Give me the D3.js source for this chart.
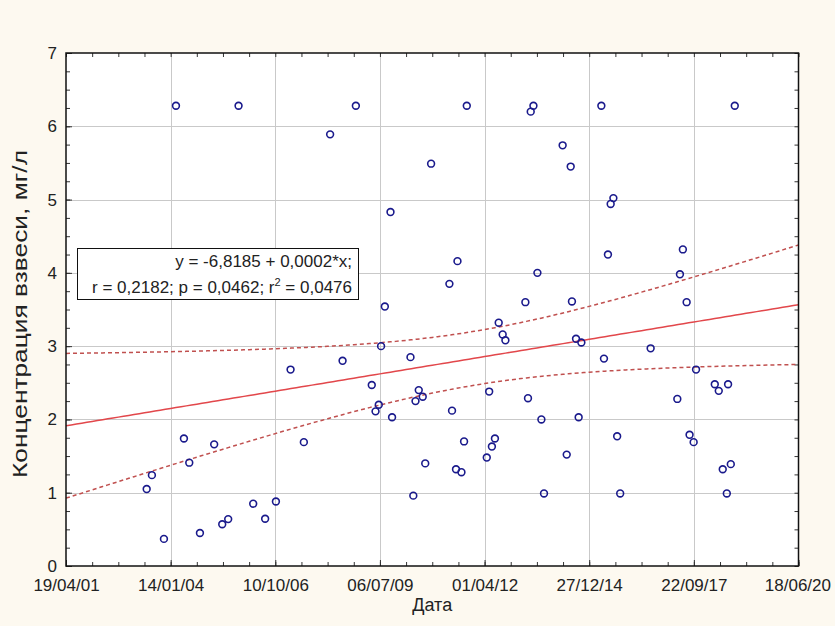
<!DOCTYPE html>
<html>
<head>
<meta charset="utf-8">
<script src="https://cdn.jsdelivr.net/npm/d3@7"></script>
<style>
  html, body { margin: 0; padding: 0; background: #fdf9f0; }
  svg { display: block; font-family: "Liberation Sans", Arial, sans-serif; }
</style>
</head>
<body>
<svg id="chart" width="835" height="626"></svg>
<script>
// Sampling dates as spreadsheet day serials (day 0 = 30/12/1899)
const sampleDay = [
  37771, 37821, 37936, 38051, 38127, 38178, 38280, 38416, 38493, 38550,
  38649, 38789, 38903, 39006, 39146, 39273, 39524, 39643, 39770, 39922,
  39958, 39989, 40011, 40047, 40101, 40116, 40292, 40319, 40340, 40371,
  40409, 40433, 40489, 40664, 40689, 40727, 40741, 40779, 40804, 40830,
  41021, 41044, 41070, 41099, 41135, 41173, 41199, 41390, 41415, 41441,
  41467, 41505, 41543, 41568, 41746, 41785, 41823, 41835, 41874, 41899,
  41925, 42116, 42141, 42179, 42205, 42231, 42267, 42296, 42587, 42842,
  42867, 42895, 42931, 42959, 42998, 43021, 43200, 43238, 43276, 43315,
  43327, 43353, 43391
];

// Suspended matter concentration, mg/l
const concentration = [
  1.05, 1.24, 0.37, 6.28, 1.74, 1.41, 0.45, 1.66, 0.57, 0.64,
  6.28, 0.85, 0.645, 0.88, 2.68, 1.69, 5.89, 2.80, 6.28, 2.47,
  2.11, 2.20, 3.00, 3.54, 4.83, 2.03, 2.85, 0.96, 2.25, 2.40,
  2.31, 1.40, 5.49, 3.85, 2.12, 1.32, 4.16, 1.28, 1.70, 6.28,
  1.48, 2.38, 1.63, 1.74, 3.32, 3.16, 3.08, 3.60, 2.29, 6.20,
  6.28, 4.00, 2.00, 0.99, 5.74, 1.52, 5.45, 3.61, 3.10, 2.03,
  3.05, 6.28, 2.83, 4.25, 4.94, 5.02, 1.77, 0.99, 2.97, 2.28,
  3.98, 4.32, 3.60, 1.79, 1.69, 2.68, 2.48, 2.39, 1.32, 0.99,
  2.48, 1.39, 6.28
];

// Axis ticks
const xTickDays = [37000, 38000, 39000, 40000, 41000, 42000, 43000, 44000];
const xTickLabels = ["19/04/01", "14/01/04", "10/10/06", "06/07/09", "01/04/12", "27/12/14", "22/09/17", "18/06/20"];
const yTicks = [0, 1, 2, 3, 4, 5, 6, 7];

// Linear fit y = a + b*x and its statistics
const fitIntercept = -6.8185;
const fitSlope = 0.000236;
const fitR = 0.2182;
const fitP = 0.0462;
const tCrit = 1.99; // two-sided 95 %, df = n - 2

const svg = d3.select("#chart");
const W = 835, H = 626;
const pLeft = 66, pRight = 798.5, pTop = 53, pBottom = 566;

svg.append("rect").attr("width", W).attr("height", H).attr("fill", "#fdf9f0");

const x = d3.scaleLinear().domain([37000, 44000]).range([pLeft, pRight]);
const y = d3.scaleLinear().domain([0, 7]).range([pBottom, pTop]);

svg.append("rect")
  .attr("x", pLeft).attr("y", pTop)
  .attr("width", pRight - pLeft).attr("height", pBottom - pTop)
  .attr("fill", "#ffffff");

// grid
const grid = svg.append("g").attr("stroke", "#c9c9c9").attr("stroke-width", 1);
xTickDays.slice(1, -1).forEach(d => {
  const px = Math.round(x(d)) + 0.5;
  grid.append("line").attr("x1", px).attr("x2", px).attr("y1", pTop).attr("y2", pBottom);
});
yTicks.slice(1, -1).forEach(v => {
  const py = Math.round(y(v)) + 0.5;
  grid.append("line").attr("x1", pLeft).attr("x2", pRight).attr("y1", py).attr("y2", py);
});

// minor ticks on every side, pointing inward
const xMinor = d3.range(37000, 44001, 250);
const yMinor = d3.range(0, 7.001, 0.25);
function tickLayer(axis, transform) {
  const g = svg.append("g").attr("transform", transform).call(axis);
  g.select(".domain").remove();
  g.selectAll(".tick line").attr("stroke", "#333").attr("stroke-width", 1);
  return g;
}
tickLayer(d3.axisBottom(x).tickValues(xMinor).tickSize(-4).tickFormat(""), `translate(0,${pBottom})`);
tickLayer(d3.axisTop(x).tickValues(xMinor).tickSize(-4).tickFormat(""), `translate(0,${pTop})`);
tickLayer(d3.axisLeft(y).tickValues(yMinor).tickSize(-4).tickFormat(""), `translate(${pLeft},0)`);
tickLayer(d3.axisRight(y).tickValues(yMinor).tickSize(-4).tickFormat(""), `translate(${pRight},0)`);

// labelled axes
const xAxis = tickLayer(
  d3.axisBottom(x).tickValues(xTickDays).tickSize(-6).tickPadding(13)
    .tickFormat((d, i) => xTickLabels[i]),
  `translate(0,${pBottom})`);
xAxis.selectAll("text").attr("fill", "#222").attr("font-size", 17);
xAxis.selectAll("text").each(function () {
  const bb = this.getBBox();
  const tr = this.parentNode.getAttribute("transform");
  const tx = +tr.match(/translate\(([-\d.]+)/)[1];
  const overflow = tx + bb.x + bb.width - (W - 4);
  if (overflow > 0) d3.select(this).attr("x", -overflow);
});

const yAxis = tickLayer(
  d3.axisLeft(y).tickValues(yTicks).tickSize(-6).tickPadding(9).tickFormat(d3.format("d")),
  `translate(${pLeft},0)`);
yAxis.selectAll("text").attr("fill", "#222").attr("font-size", 17);

// confidence band around the fitted line, from the sample itself
const n = sampleDay.length;
const meanX = d3.mean(sampleDay);
const sxx = d3.sum(sampleDay, d => (d - meanX) ** 2);
const sse = d3.sum(sampleDay, (d, i) => (concentration[i] - (fitIntercept + fitSlope * d)) ** 2);
const sRes = Math.sqrt(sse / (n - 2));
const fitAt = d => fitIntercept + fitSlope * d;
const halfWidth = d => tCrit * sRes * Math.sqrt(1 / n + (d - meanX) ** 2 / sxx);
const curveDays = d3.range(37000, 44001, 50);

svg.append("clipPath").attr("id", "plotClip")
  .append("rect").attr("x", pLeft).attr("y", pTop).attr("width", pRight - pLeft).attr("height", pBottom - pTop);

const lines = svg.append("g").attr("clip-path", "url(#plotClip)");
const lineGen = f => d3.line().x(d => x(d)).y(d => y(f(d)))(curveDays);
lines.append("path").attr("d", lineGen(d => fitAt(d) + halfWidth(d)))
  .attr("fill", "none").attr("stroke", "#c0504f").attr("stroke-width", 1.5).attr("stroke-dasharray", "4,3");
lines.append("path").attr("d", lineGen(d => fitAt(d) - halfWidth(d)))
  .attr("fill", "none").attr("stroke", "#c0504f").attr("stroke-width", 1.5).attr("stroke-dasharray", "4,3");
lines.append("path").attr("d", lineGen(fitAt))
  .attr("fill", "none").attr("stroke", "#e2474b").attr("stroke-width", 1.5);

// sample points
svg.append("g").selectAll("circle")
  .data(sampleDay.map((d, i) => [d, concentration[i]]))
  .join("circle")
  .attr("cx", d => x(d[0])).attr("cy", d => y(d[1])).attr("r", 3.4)
  .attr("fill", "none").attr("stroke", "#1a1a8c").attr("stroke-width", 1.6);

// plot frame
svg.append("rect")
  .attr("x", pLeft).attr("y", pTop).attr("width", pRight - pLeft).attr("height", pBottom - pTop)
  .attr("fill", "none").attr("stroke", "#111").attr("stroke-width", 1.5);

// regression annotation
const comma = v => v.toFixed(4).replace(".", ",");
const box = svg.append("g");
box.append("rect").attr("x", 77.5).attr("y", 248.5).attr("width", 281).attr("height", 51)
  .attr("fill", "#fff").attr("stroke", "#111").attr("stroke-width", 1);
box.append("text").attr("x", 352).attr("y", 266.5).attr("text-anchor", "end")
  .attr("font-size", 17).attr("fill", "#222")
  .text(`y = ${comma(fitIntercept)} + ${comma(fitSlope)}*x;`);
const t2 = box.append("text").attr("x", 352).attr("y", 293).attr("text-anchor", "end")
  .attr("font-size", 17).attr("fill", "#222");
t2.append("tspan").text(`r = ${comma(fitR)}; p = ${comma(fitP)}; r`);
t2.append("tspan").attr("font-size", 11).attr("dy", -7).text("2");
t2.append("tspan").attr("dy", 7).text(` = ${comma(fitR * fitR)}`);

// axis titles
svg.append("text").attr("x", (pLeft + pRight) / 2).attr("y", 611).attr("text-anchor", "middle")
  .attr("font-size", 18).attr("fill", "#222").text("Дата");
svg.append("text").attr("transform", `translate(27,314) rotate(-90)`)
  .attr("text-anchor", "middle").attr("font-size", 20).attr("fill", "#222")
  .attr("textLength", 328).attr("lengthAdjust", "spacingAndGlyphs")
  .text("Концентрация взвеси, мг/л");
</script>
</body>
</html>
